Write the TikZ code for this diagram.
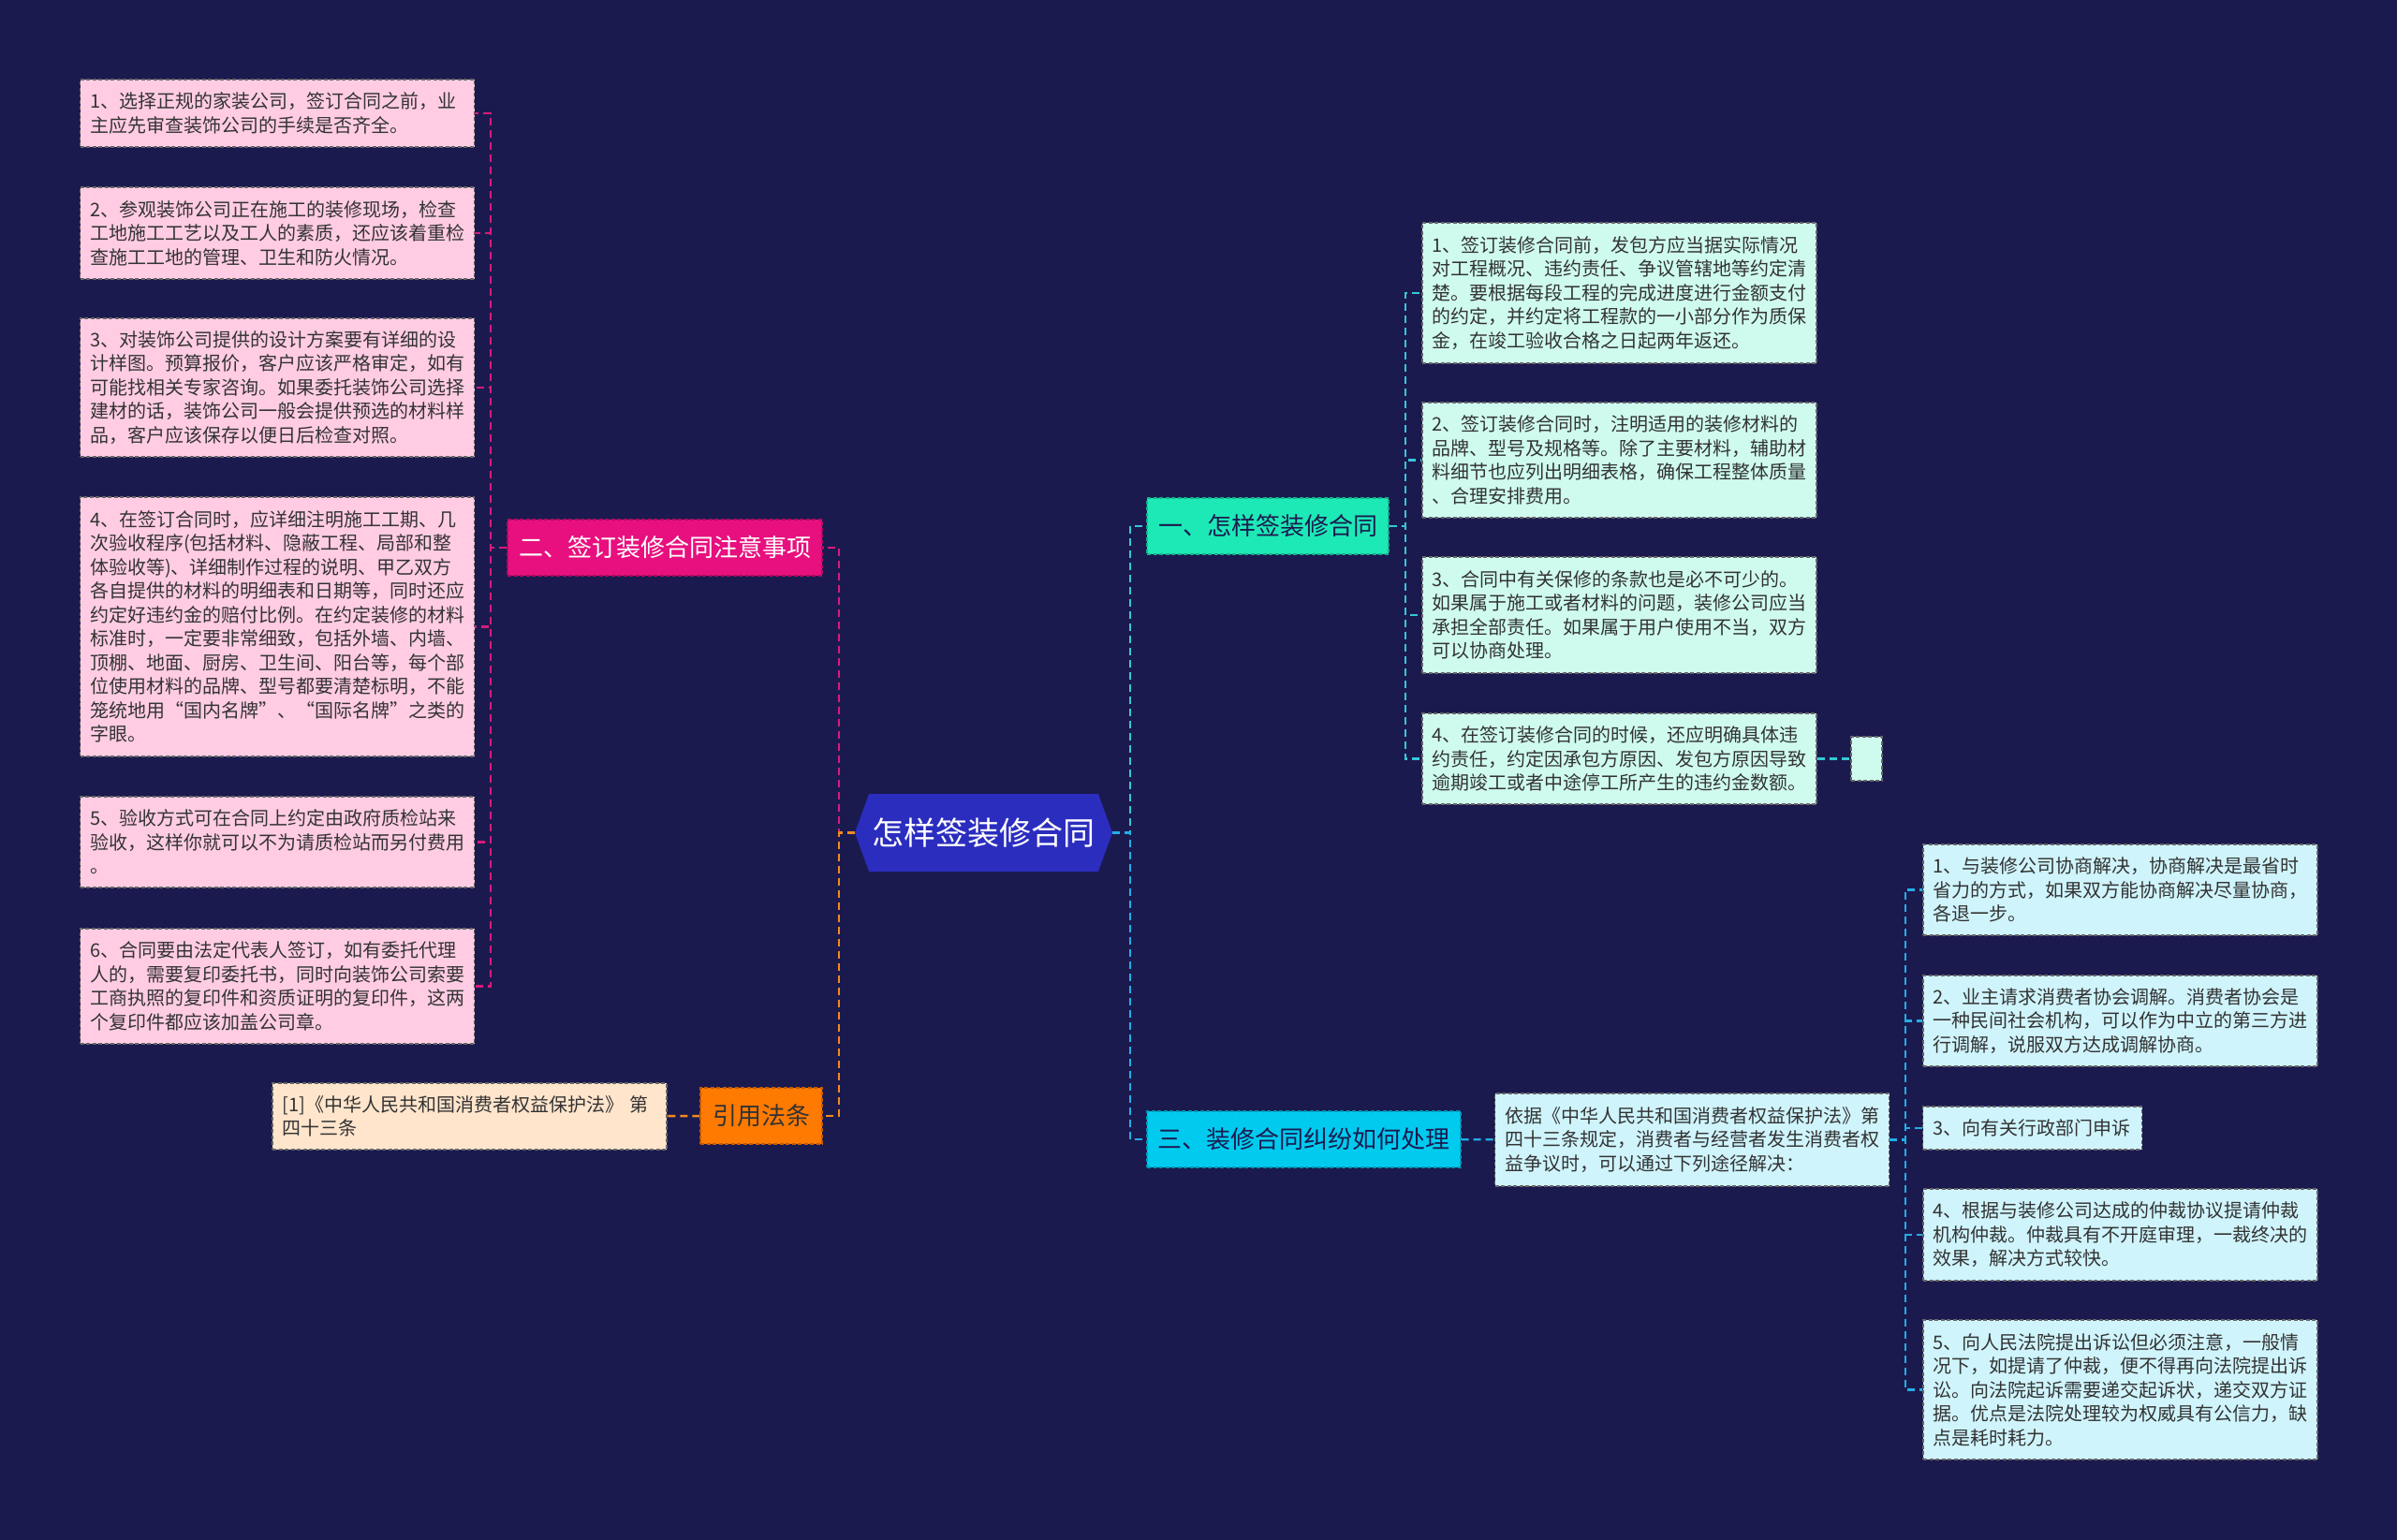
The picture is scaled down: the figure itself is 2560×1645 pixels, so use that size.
\documentclass[tikz,border=0pt]{standalone}
\usepackage{fontspec}
\setmainfont{Noto Sans CJK SC}
\usetikzlibrary{positioning,shapes.symbols}
\definecolor{night}{HTML}{1B1A4F}
\definecolor{ink}{HTML}{333333}
\definecolor{rootblue}{HTML}{2B2DBF}
\definecolor{magenta}{HTML}{E8107E}
\definecolor{orange}{HTML}{FF7A00}
\definecolor{teal}{HTML}{1DE9B6}
\definecolor{cyan}{HTML}{00CBEF}
\definecolor{pinkfill}{HTML}{FFCCE3}
\definecolor{mintfill}{HTML}{CFFBEF}
\definecolor{cyanfill}{HTML}{CFF4FC}
\definecolor{peachfill}{HTML}{FFE5CC}
\definecolor{linepink}{HTML}{D81B7A}
\definecolor{lineorange}{HTML}{F28A1E}
\definecolor{lineteal}{HTML}{35C8D6}
\definecolor{linecyan}{HTML}{22AEE6}
\tikzset{
  leaf/.style={draw=ink!75, dash pattern=on 4pt off 2.5pt, line width=1.3pt, align=left, inner xsep=10.5pt, inner ysep=0pt, text width=400pt, font=\fontsize{20}{25.5}\selectfont, text=ink},
  pinkleaf/.style={leaf, fill=pinkfill},
  mintleaf/.style={leaf, fill=mintfill},
  cyanleaf/.style={leaf, fill=cyanfill},
  peachleaf/.style={leaf, fill=peachfill},
  branch/.style={dash pattern=on 4pt off 2.5pt, line width=1.3pt, align=center, inner sep=0pt, minimum height=60pt, font=\fontsize{26}{30}\selectfont},
  pinkbranch/.style={branch, fill=magenta, draw=magenta!75!black, text=white},
  orangebranch/.style={branch, fill=orange, draw=orange!75!black, text=ink},
  tealbranch/.style={branch, fill=teal, draw=teal!75!black, text=night},
  cyanbranch/.style={branch, fill=cyan, draw=cyan!75!black, text=night},
  rootnode/.style={signal, signal to=east and west, signal pointer angle=140, fill=rootblue, text=white, minimum width=275pt, minimum height=83pt, inner sep=0pt, font=\fontsize{34}{40}\selectfont},
  link/.style={line width=2.4pt, dash pattern=on 8pt off 5pt},
  pinklink/.style={link, draw=linepink},
  orangelink/.style={link, draw=lineorange},
  teallink/.style={link, draw=lineteal},
  cyanlink/.style={link, draw=linecyan}
}
\begin{document}
\begin{tikzpicture}[x=1pt, y=-1pt]
\fill[night] (0,0) rectangle (2560,1645);
\coordinate (hubL) at (524,0); \coordinate (hubC) at (896,0); \coordinate (hubR) at (1207,0);
\coordinate (hub1) at (1501,0); \coordinate (hub3) at (2035,0);
\node[rootnode] (root) at (1050.5,889.5) {怎样签装修合同};
\node[pinkbranch, minimum width=336pt] (b2) at (710,585) {二、签订装修合同注意事项};
\node[orangebranch, minimum width=130pt] (b4) at (813,1192) {引用法条};
\node[tealbranch, minimum width=258pt] (b1) at (1354,562) {一、怎样签装修合同};
\node[cyanbranch, minimum width=335pt] (b3) at (1392.5,1217) {三、装修合同纠纷如何处理};
\node[pinkleaf, minimum height=72pt] (p1) at (296,121) {1、选择正规的家装公司，签订合同之前，业\\主应先审查装饰公司的手续是否齐全。};
\node[pinkleaf, minimum height=98pt] (p2) at (296,249) {2、参观装饰公司正在施工的装修现场，检查\\工地施工工艺以及工人的素质，还应该着重检\\查施工工地的管理、卫生和防火情况。};
\node[pinkleaf, minimum height=148pt] (p3) at (296,414) {3、对装饰公司提供的设计方案要有详细的设\\计样图。预算报价，客户应该严格审定，如有\\可能找相关专家咨询。如果委托装饰公司选择\\建材的话，装饰公司一般会提供预选的材料样\\品，客户应该保存以便日后检查对照。};
\node[pinkleaf, minimum height=277pt] (p4) at (296,669.5) {4、在签订合同时，应详细注明施工工期、几\\次验收程序(包括材料、隐蔽工程、局部和整\\体验收等)、详细制作过程的说明、甲乙双方\\各自提供的材料的明细表和日期等，同时还应\\约定好违约金的赔付比例。在约定装修的材料\\标准时，一定要非常细致，包括外墙、内墙、\\顶棚、地面、厨房、卫生间、阳台等，每个部\\位使用材料的品牌、型号都要清楚标明，不能\\笼统地用“国内名牌”、“国际名牌”之类的\\字眼。};
\node[pinkleaf, minimum height=97pt] (p5) at (296,899.5) {5、验收方式可在合同上约定由政府质检站来\\验收，这样你就可以不为请质检站而另付费用\\。};
\node[pinkleaf, minimum height=123pt] (p6) at (296,1053.5) {6、合同要由法定代表人签订，如有委托代理\\人的，需要复印委托书，同时向装饰公司索要\\工商执照的复印件和资质证明的复印件，这两\\个复印件都应该加盖公司章。};
\node[peachleaf, minimum height=71pt] (ref) at (501.5,1192.5) {[1]《中华人民共和国消费者权益保护法》 第\\四十三条};
\node[mintleaf, minimum height=150pt] (m1) at (1729.5,313) {1、签订装修合同前，发包方应当据实际情况\\对工程概况、违约责任、争议管辖地等约定清\\楚。要根据每段工程的完成进度进行金额支付\\的约定，并约定将工程款的一小部分作为质保\\金，在竣工验收合格之日起两年返还。};
\node[mintleaf, minimum height=123pt] (m2) at (1729.5,491.5) {2、签订装修合同时，注明适用的装修材料的\\品牌、型号及规格等。除了主要材料，辅助材\\料细节也应列出明细表格，确保工程整体质量\\、合理安排费用。};
\node[mintleaf, minimum height=124pt] (m3) at (1729.5,657) {3、合同中有关保修的条款也是必不可少的。\\如果属于施工或者材料的问题，装修公司应当\\承担全部责任。如果属于用户使用不当，双方\\可以协商处理。};
\node[mintleaf, minimum height=97pt] (m4) at (1729.5,810.5) {4、在签订装修合同的时候，还应明确具体违\\约责任，约定因承包方原因、发包方原因导致\\逾期竣工或者中途停工所产生的违约金数额。};
\node[mintleaf, text width=12pt, minimum height=47pt] (m5) at (1993.5,810.5) {};
\node[cyanleaf, minimum height=99pt] (law) at (1807,1217.5) {依据《中华人民共和国消费者权益保护法》第\\四十三条规定，消费者与经营者发生消费者权\\益争议时，可以通过下列途径解决：};
\node[cyanleaf, minimum height=97pt] (d1) at (2264.5,950.5) {1、与装修公司协商解决，协商解决是最省时\\省力的方式，如果双方能协商解决尽量协商，\\各退一步。};
\node[cyanleaf, minimum height=97pt] (d2) at (2264.5,1090.5) {2、业主请求消费者协会调解。消费者协会是\\一种民间社会机构，可以作为中立的第三方进\\行调解，说服双方达成调解协商。};
\node[cyanleaf, text width=213pt, minimum height=46pt] (d3) at (2170.5,1205) {3、向有关行政部门申诉};
\node[cyanleaf, minimum height=98pt] (d4) at (2264.5,1319) {4、根据与装修公司达成的仲裁协议提请仲裁\\机构仲裁。仲裁具有不开庭审理，一裁终决的\\效果，解决方式较快。};
\node[cyanleaf, minimum height=149pt] (d5) at (2264.5,1484.5) {5、向人民法院提出诉讼但必须注意，一般情\\况下，如提请了仲裁，便不得再向法院提出诉\\讼。向法院起诉需要递交起诉状，递交双方证\\据。优点是法院处理较为权威具有公信力，缺\\点是耗时耗力。};
\foreach \i in {1,...,6} \draw[pinklink] (b2.west) -- (b2.west -| hubL) |- (p\i.east);
\draw[pinklink] (root.west) -- (root.west -| hubC) |- (b2.east);
\draw[orangelink] (root.west) -- (root.west -| hubC) |- (b4.east);
\draw[orangelink] (b4) -- (ref);
\draw[teallink] (root.east) -- (root.east -| hubR) |- (b1.west);
\draw[cyanlink] (root.east) -- (root.east -| hubR) |- (b3.west);
\foreach \i in {1,...,4} \draw[teallink] (b1.east) -- (b1.east -| hub1) |- (m\i.west);
\draw[teallink] (m4) -- (m5);
\draw[cyanlink] (b3) -- (law);
\foreach \i in {1,...,5} \draw[cyanlink] (law.east) -- (law.east -| hub3) |- (d\i.west);
\end{tikzpicture}
\end{document}
